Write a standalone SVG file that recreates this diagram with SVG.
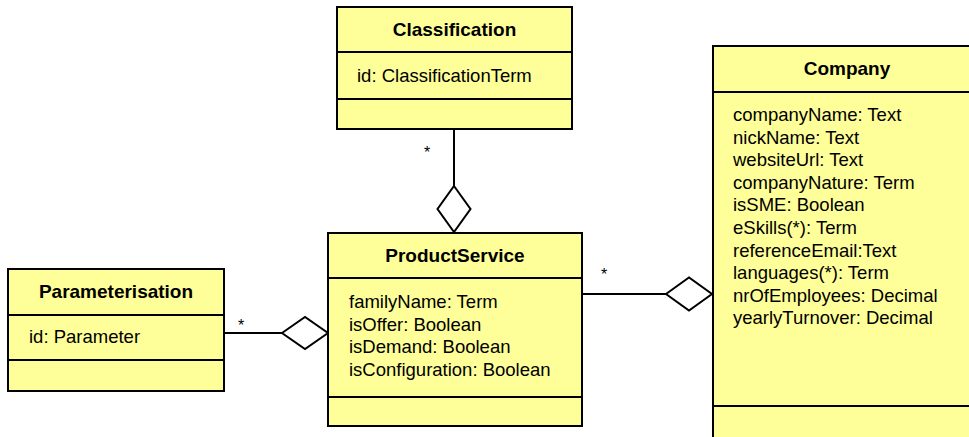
<svg xmlns="http://www.w3.org/2000/svg" width="969" height="437" viewBox="0 0 969 437">
  <style>
    .box { fill: #FFFF99; stroke: #000; stroke-width: 2; }
    .sep { stroke: #000; stroke-width: 2; }
    .title { font-family: "Liberation Sans", Arial, sans-serif; font-size: 19px; font-weight: bold; text-anchor: middle; fill: #000; }
    .attr { font-family: "Liberation Sans", Arial, sans-serif; font-size: 18.5px; fill: #000; }
    .mult { font-family: "Liberation Sans", Arial, sans-serif; font-size: 16px; fill: #000; }
    .line { fill: none; stroke: #000; stroke-width: 2; }
    .diamond { fill: #fff; stroke: #000; stroke-width: 2; }
  </style>
  <rect width="969" height="437" fill="#fff"/>

  <!-- associations -->
  <g id="connectors">
    <line class="line" x1="454" y1="129" x2="454" y2="186"/>
    <polygon class="diamond" points="454,186 470.5,209 454,232 437.5,209"/>
    <text class="mult" x="424" y="158">*</text>

    <line class="line" x1="224" y1="333" x2="282" y2="333"/>
    <polygon class="diamond" points="282,333 305,317 328,333 305,349"/>
    <text class="mult" x="238" y="331">*</text>

    <line class="line" x1="582" y1="294" x2="666" y2="294"/>
    <polygon class="diamond" points="666,294 689,277.5 712,294 689,310.5"/>
    <text class="mult" x="601" y="280">*</text>
  </g>

  <g id="classification">
    <rect class="box" x="337" y="7" width="235" height="122"/>
    <line class="sep" x1="337" y1="52" x2="572" y2="52"/>
    <line class="sep" x1="337" y1="99" x2="572" y2="99"/>
    <text class="title" x="454.5" y="36">Classification</text>
    <text class="attr" x="357" y="82">id: ClassificationTerm</text>
  </g>

  <g id="parameterisation">
    <rect class="box" x="8" y="269" width="216" height="122"/>
    <line class="sep" x1="8" y1="315" x2="224" y2="315"/>
    <line class="sep" x1="8" y1="360" x2="224" y2="360"/>
    <text class="title" x="116" y="298">Parameterisation</text>
    <text class="attr" x="29" y="343">id: Parameter</text>
  </g>

  <g id="productservice">
    <rect class="box" x="328" y="233" width="254" height="193"/>
    <line class="sep" x1="328" y1="278" x2="582" y2="278"/>
    <line class="sep" x1="328" y1="397" x2="582" y2="397"/>
    <text class="title" x="455" y="262">ProductService</text>
    <text class="attr" x="349" y="308">familyName: Term</text>
    <text class="attr" x="349" y="330.5">isOffer: Boolean</text>
    <text class="attr" x="349" y="353">isDemand: Boolean</text>
    <text class="attr" x="349" y="375.5">isConfiguration: Boolean</text>
  </g>

  <g id="company">
    <rect class="box" x="713" y="46" width="275" height="400"/>
    <line class="sep" x1="713" y1="92" x2="988" y2="92"/>
    <line class="sep" x1="713" y1="406" x2="988" y2="406"/>
    <text class="title" x="847" y="75">Company</text>
    <text class="attr" x="733" y="121">companyName: Text</text>
    <text class="attr" x="733" y="143.6">nickName: Text</text>
    <text class="attr" x="733" y="166.2">websiteUrl: Text</text>
    <text class="attr" x="733" y="188.8">companyNature: Term</text>
    <text class="attr" x="733" y="211.4">isSME: Boolean</text>
    <text class="attr" x="733" y="234">eSkills(*): Term</text>
    <text class="attr" x="733" y="256.6">referenceEmail:Text</text>
    <text class="attr" x="733" y="279.2">languages(*): Term</text>
    <text class="attr" x="733" y="301.8">nrOfEmployees: Decimal</text>
    <text class="attr" x="733" y="324.4">yearlyTurnover: Decimal</text>
  </g>
</svg>
